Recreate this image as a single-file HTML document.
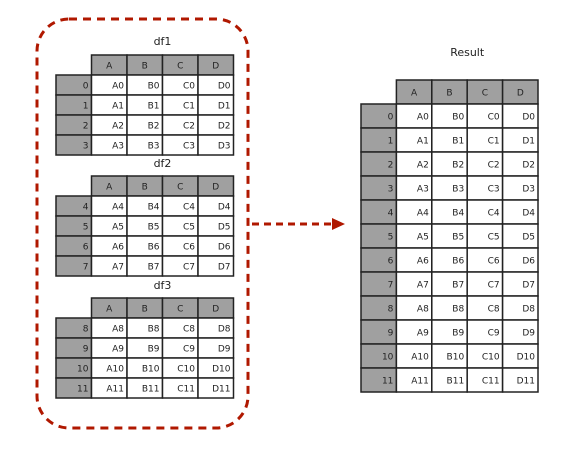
<!DOCTYPE html>
<html><head><meta charset="utf-8"><style>
body{margin:0;background:#fff}
svg text{font-family:"DejaVu Sans","Liberation Sans",sans-serif;fill:#222}
</style></head><body>
<svg width="580" height="455" viewBox="0 0 580 455">
<rect x="37" y="19" width="211" height="409" rx="32" fill="none" stroke="#b01800" stroke-width="3" stroke-dasharray="8,6"/>
<line x1="252" y1="224" x2="334" y2="224" stroke="#b01800" stroke-width="3" stroke-dasharray="7,5"/>
<polygon points="332,218 345,224 332,230" fill="#b01800"/>
<g id="tables"></g>
</svg>
<script>
const cols=['A','B','C','D'];
const df1Rows=[0,1,2,3];
const df2Rows=[4,5,6,7];
const df3Rows=[8,9,10,11];
const resultRows=[0,1,2,3,4,5,6,7,8,9,10,11];
const NS='http://www.w3.org/2000/svg';
const g=document.getElementById('tables');
function mk(t,a,parent){const e=document.createElementNS(NS,t);for(const k in a)e.setAttribute(k,a[k]);(parent||g).appendChild(e);return e;}
function table(name,title,titleY,x0,y0,rows,rh,cw){
  const grp=mk('g',{});
  
  
  const tt=mk('text',{x:x0+cw+2*cw,y:titleY,'text-anchor':'middle','font-size':11},grp);tt.textContent=title;
  
  
  cols.forEach((c,i)=>{
    const x=x0+cw*(i+1);
    mk('rect',{x:x,y:y0,width:cw,height:rh,fill:'#a0a0a0',stroke:'#222','stroke-width':1.5},grp);
    const t=mk('text',{x:x+cw/2,y:y0+rh/2+3.5,'text-anchor':'middle','font-size':9},grp);t.textContent=c;
    
    
  });
  rows.forEach((r,j)=>{
    const y=y0+rh*(j+1);
    mk('rect',{x:x0,y:y,width:cw,height:rh,fill:'#a0a0a0',stroke:'#222','stroke-width':1.5},grp);
    const it=mk('text',{x:x0+cw-3,y:y+rh/2+3.5,'text-anchor':'end','font-size':9},grp);it.textContent=r;
    
    
    cols.forEach((c,i)=>{
      const x=x0+cw*(i+1);
      mk('rect',{x:x,y:y,width:cw,height:rh,fill:'#fff',stroke:'#222','stroke-width':1.5},grp);
      const t=mk('text',{x:x+cw-3,y:y+rh/2+3.5,'text-anchor':'end','font-size':9},grp);t.textContent=c+r;
      
      
    });
  });
}
table('df1-table','df1',45,56,55,df1Rows,20,35.5);
table('df2-table','df2',167,56,176,df2Rows,20,35.5);
table('df3-table','df3',289,56,298,df3Rows,20,35.5);
table('result-table','Result',56,361,80,resultRows,24,35.4);
</script>
</body></html>
